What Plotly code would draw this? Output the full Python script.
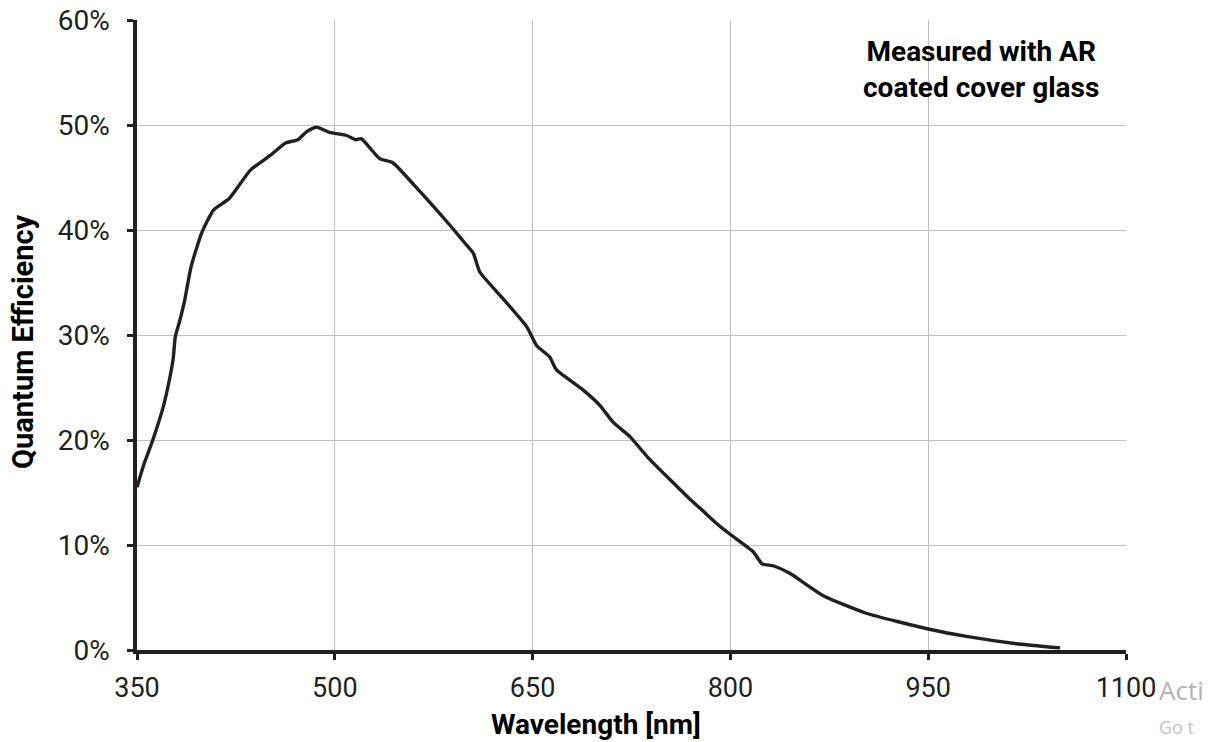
import plotly.graph_objects as go

# Quantum efficiency curve (wavelength in nm, QE in %)
wavelength_nm = [350, 355, 362, 370, 375, 377.5, 379, 382.5, 386, 391, 399, 408, 420,
                 436, 451, 463, 472, 479, 486, 496, 509, 516, 520, 534, 544, 560,
                 587, 597, 605, 610, 628, 645.5, 653, 663, 668, 688, 701, 711, 724,
                 737, 769, 777, 790, 800, 817, 821, 824, 833, 845, 870, 903, 950,
                 979, 1017, 1050]
qe_percent = [15.5, 17.6, 20.0, 23.2, 26.0, 27.8, 29.8, 31.4, 33.2, 36.5, 39.7, 41.9, 43.0,
              45.7, 47.1, 48.3, 48.6, 49.4, 49.8, 49.3, 49.0, 48.6, 48.7, 46.8, 46.4, 44.3,
              40.5, 39.0, 37.8, 36.0, 33.4, 30.8, 29.0, 27.9, 26.7, 24.8, 23.3, 21.7, 20.3,
              18.4, 14.4, 13.5, 12.0, 11.0, 9.4, 8.7, 8.2, 8.0, 7.3, 5.2, 3.5, 2.0,
              1.3, 0.6, 0.2]

x_ticks = [350, 500, 650, 800, 950, 1100]
y_ticks = [0, 10, 20, 30, 40, 50, 60]

INK = "#231f20"
GRID = "#bfbfbf"

fig = go.Figure()
fig.add_trace(go.Scatter(
    x=wavelength_nm, y=qe_percent, mode="lines",
    line=dict(color=INK, width=3.4, shape="spline", smoothing=0.5),
    hoverinfo="x+y", showlegend=False,
))

axis_common = dict(
    showgrid=True, gridcolor=GRID, gridwidth=1.3,
    showline=True, linecolor=INK, linewidth=3.5,
    ticks="outside", ticklen=6, tickwidth=3, tickcolor=INK,
    zeroline=False, automargin=False,
)

fig.update_xaxes(
    range=[350, 1100], tickvals=x_ticks, ticktext=[str(v) for v in x_ticks],
    ticklabelstandoff=5,
    tickfont=dict(family="Roboto", size=27, color=INK),
    **axis_common,
)
fig.update_yaxes(
    range=[0, 60], tickvals=y_ticks, ticktext=[f"{v}%" for v in y_ticks],
    ticklabelstandoff=12,
    tickfont=dict(family="Roboto", size=28, color=INK),
    **axis_common,
)

# Axis titles
fig.add_annotation(
    xref="paper", yref="paper", x=0.464, y=-0.1175, xanchor="center", yanchor="middle",
    text="<b>Wavelength [nm]</b>", showarrow=False,
    font=dict(family="Roboto", size=28, color="#000"),
)
fig.add_annotation(
    xref="paper", yref="paper", x=-0.1153, y=0.489, xanchor="center", yanchor="middle",
    text="<b>Quantum Efficiency</b>", showarrow=False, textangle=-90,
    font=dict(family="Roboto", size=29, color="#000"),
)

fig.add_annotation(
    xref="paper", yref="paper", x=0.853, y=0.922, xanchor="center", yanchor="middle",
    text="<b>Measured with AR<br>coated cover glass</b>", showarrow=False, align="center",
    font=dict(family="Roboto", size=28, color="#000"),
)

# Desktop watermark along the right edge
fig.add_annotation(
    xref="paper", yref="paper", x=1.0313, y=-0.0635, xanchor="left", yanchor="middle",
    text="Acti", showarrow=False,
    font=dict(family="Open Sans", size=26, color="#b4b4b4"),
)
fig.add_annotation(
    xref="paper", yref="paper", x=1.0313, y=-0.122, xanchor="left", yanchor="middle",
    text="Go t", showarrow=False,
    font=dict(family="Open Sans", size=18, color="#c4c4c4"),
)

fig.update_layout(
    width=1213, height=742,
    margin=dict(l=137, r=87, t=20, b=92),
    paper_bgcolor="white", plot_bgcolor="white",
)

fig.write_html("out.html")
